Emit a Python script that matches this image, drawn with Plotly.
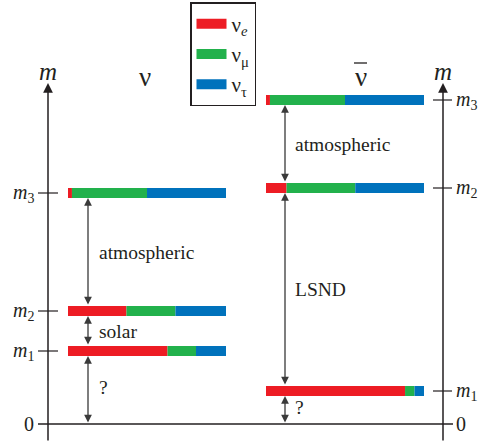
import plotly.graph_objects as go

# ---------------- data ----------------
flavours = ["ν<sub><i>e</i></sub>", "ν<sub>μ</sub>", "ν<sub>τ</sub>"]
flavour_colors = ["#ED1C24", "#22B14C", "#0072BC"]
level_names = ["<i>m</i><sub>1</sub>", "<i>m</i><sub>2</sub>", "<i>m</i><sub>3</sub>"]

# mass levels (arbitrary units) for the neutrino (left) and antineutrino (right) spectra
nu_mass = [0.73, 1.13, 2.31]
nubar_mass = [0.33, 2.36, 3.24]

# flavour content of each mass state (m1, m2, m3)
nu_e = [0.63, 0.37, 0.025]
nu_mu = [0.18, 0.31, 0.475]
nu_tau = [0.19, 0.32, 0.50]

nubar_e = [0.88, 0.13, 0.025]
nubar_mu = [0.06, 0.435, 0.475]
nubar_tau = [0.06, 0.435, 0.50]

gap_labels_nu = ["?", "solar", "atmospheric"]
gap_labels_nubar = ["?", "LSND", "atmospheric"]

# ---------------- layout constants ----------------
W, H = 485, 445
FONT = "'Liberation Serif', 'Times New Roman', serif"
INK = "#231F20"
ARROW = "#3a3a3a"
BAR_W = 158          # horizontal length of a bar (x units = px)
BAR_T = 0.10         # bar thickness (mass units)
COLS = [
    dict(x0=68, mass=nu_mass, fr=[nu_e, nu_mu, nu_tau], arrow_x=88, lab_x=97,
         gaps=gap_labels_nu, axis_x=48, side="left", head="ν", head_x=145),
    dict(x0=266, mass=nubar_mass, fr=[nubar_e, nubar_mu, nubar_tau], arrow_x=285, lab_x=293,
         gaps=gap_labels_nubar, axis_x=443, side="right", head="ν", head_x=361),
]
Y0_PX, PX_PER_UNIT = 424, 100.0
yr = [(Y0_PX - H) / PX_PER_UNIT, Y0_PX / PX_PER_UNIT]
def py(p):  # pixel row -> mass units
    return (Y0_PX - p) / PX_PER_UNIT

fig = go.Figure()
shapes, annotations = [], []

for ci, col in enumerate(COLS):
    cum = [0.0] * len(col["mass"])
    for fi, fracs in enumerate(col["fr"]):
        fig.add_trace(go.Bar(
            orientation="h",
            y=col["mass"],
            x=[f * BAR_W for f in fracs],
            base=[col["x0"] + c * BAR_W for c in cum],
            width=BAR_T,
            marker=dict(color=flavour_colors[fi], line=dict(width=0)),
            showlegend=False,
            hoverinfo="skip",
        ))
        cum = [c + f for c, f in zip(cum, fracs)]

    # vertical mass axis with arrow
    ax_x = col["axis_x"]
    annotations.append(dict(x=ax_x, y=py(83), ax=ax_x, ay=py(442), xref="x", yref="y",
                            axref="x", ayref="y", text="", showarrow=True,
                            arrowhead=2, arrowsize=1.3, arrowwidth=1.5, arrowcolor=INK,
                            standoff=0))
    annotations.append(dict(x=ax_x, y=py(71), xref="x", yref="y", text="<i>m</i>",
                            showarrow=False, font=dict(family=FONT, size=25, color=INK)))
    # ticks and tick labels
    if col["side"] == "left":
        tx0, tx1, lx, anchor = ax_x - 10, ax_x + 10, ax_x - 12, "right"
    else:
        tx0, tx1, lx, anchor = ax_x - 10, ax_x + 9, ax_x + 11, "left"
    for m, name in zip(col["mass"], level_names):
        shapes.append(dict(type="line", x0=tx0, x1=tx1, y0=m, y1=m, xref="x", yref="y",
                           line=dict(color=INK, width=1.2)))
        annotations.append(dict(x=lx, y=m, xref="x", yref="y", text=name, showarrow=False,
                                xanchor=anchor, yanchor="middle",
                                font=dict(family=FONT, size=20, color=INK)))
    annotations.append(dict(x=lx, y=0, xref="x", yref="y", text="0", showarrow=False,
                            xanchor=anchor, yanchor="middle",
                            font=dict(family=FONT, size=20, color=INK)))

    # gap arrows between levels and labels
    levels = [0.0] + list(col["mass"])
    for gi in range(3):
        lo, hi = levels[gi], levels[gi + 1]
        lo_edge = lo + (BAR_T / 2 if gi > 0 else 0)
        hi_edge = hi - BAR_T / 2
        annotations.append(dict(x=col["arrow_x"], y=hi_edge, ax=col["arrow_x"], ay=lo_edge,
                                xref="x", yref="y", axref="x", ayref="y", text="",
                                showarrow=True, arrowhead=2, arrowside="end+start",
                                arrowsize=1.2, arrowwidth=1.3, arrowcolor=ARROW, standoff=0,
                                startstandoff=0))
        annotations.append(dict(x=col["lab_x"], y=(lo + hi) / 2, xref="x", yref="y",
                                text=col["gaps"][gi], showarrow=False, xanchor="left",
                                yanchor="middle",
                                font=dict(family=FONT, size=19.5, color=INK)))

    # column heading
    annotations.append(dict(x=col["head_x"], y=py(77), xref="x", yref="y", text=col["head"],
                            showarrow=False, font=dict(family=FONT, size=27, color=INK)))

# overline for antineutrino
shapes.append(dict(type="line", x0=354, x1=367, y0=py(63), y1=py(63), xref="x", yref="y",
                   line=dict(color=INK, width=1.3)))
# zero line
shapes.append(dict(type="line", x0=38, x1=453, y0=0, y1=0, xref="x", yref="y",
                   line=dict(color=INK, width=1.5)))

# legend entries
for name, c in zip(flavours, flavour_colors):
    fig.add_trace(go.Scatter(x=[None], y=[None], mode="lines", name=name,
                             line=dict(color=c, width=10)))

fig.update_layout(
    width=W, height=H,
    margin=dict(l=0, r=0, t=0, b=0),
    paper_bgcolor="white", plot_bgcolor="white",
    barmode="overlay",
    xaxis=dict(range=[0, W], visible=False, fixedrange=True),
    yaxis=dict(range=yr, visible=False, fixedrange=True),
    shapes=shapes, annotations=annotations,
    showlegend=True,
    legend=dict(x=190 / W, y=1 - 2 / H, xanchor="left", yanchor="top",
                bordercolor=INK, borderwidth=1.5, bgcolor="white",
                font=dict(family=FONT, size=21, color=INK),
                itemwidth=30, traceorder="normal"),
    font=dict(family=FONT, color=INK),
)

fig.write_html("out.html")
